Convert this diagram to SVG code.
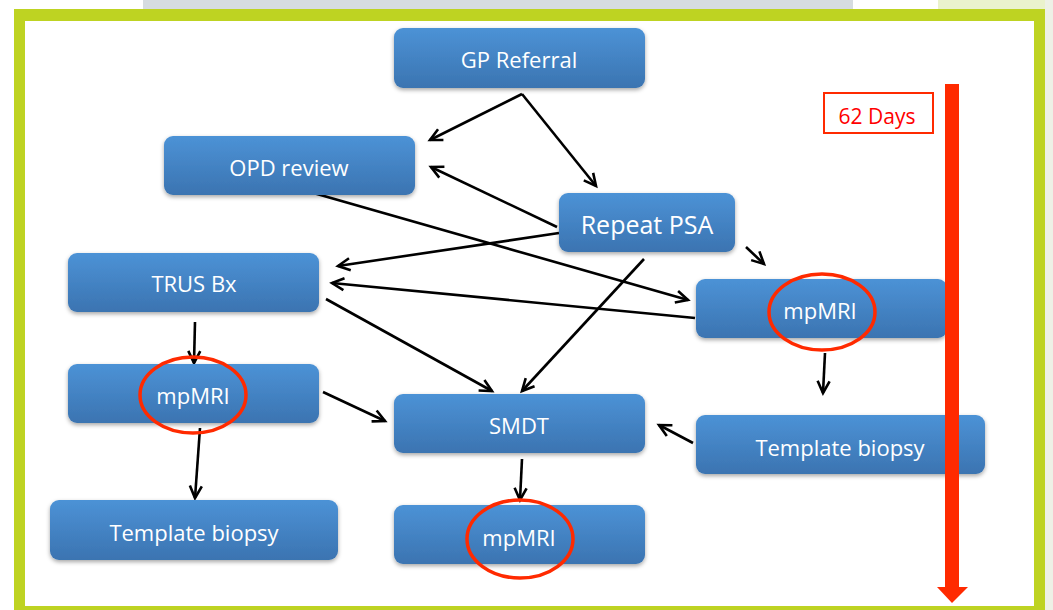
<svg xmlns="http://www.w3.org/2000/svg" width="1053" height="610" viewBox="0 0 1053 610">
<style>
.node rect.box{fill:url(#bg);filter:url(#sh)}
.node text{font-family:"Open Sans","Liberation Sans",sans-serif;font-size:22px;fill:#ffffff;text-anchor:middle;dominant-baseline:central}
.ring{fill:none;stroke:#ff2a00;stroke-width:3.5}
#connectors line{stroke:#000;stroke-width:2.6;marker-end:url(#ah)}
</style>
<defs>
<linearGradient id="bg" x1="0" y1="0" x2="0" y2="1">
<stop offset="0" stop-color="#4c92d6"/>
<stop offset="1" stop-color="#3b74b1"/>
</linearGradient>
<filter id="sh" x="-10%" y="-20%" width="120%" height="150%">
<feDropShadow dx="0" dy="2" stdDeviation="2" flood-color="#000" flood-opacity="0.35"/>
</filter>
<marker id="ah" markerUnits="userSpaceOnUse" markerWidth="16" markerHeight="16" refX="13" refY="7" orient="auto" viewBox="0 0 16 14">
<path d="M1,1 L13,7 L1,13" fill="none" stroke="#000" stroke-width="2.6" stroke-linejoin="miter"/>
</marker>
</defs>
<rect x="0" y="0" width="1053" height="610" fill="#ffffff"/>
<rect x="143" y="0" width="710" height="10" fill="#d6dce0"/>
<rect x="938" y="0" width="115" height="10" fill="#eaf2cc"/>
<rect x="1045" y="0" width="8" height="610" fill="#eef1e6"/>
<path d="M14,9 H1045 V610 H14 Z M25,21 V606 H1034 V21 Z" fill="#bed322" fill-rule="evenodd"/>

<g id="connectors">
<line x1="522" y1="94" x2="430" y2="140"/>
<line x1="522" y1="94" x2="596" y2="186"/>
<line x1="557" y1="227" x2="431" y2="167"/>
<line x1="559" y1="233" x2="338" y2="266"/>
<line x1="310" y1="192" x2="688" y2="300"/>
<line x1="695" y1="318" x2="332" y2="283"/>
<line x1="746" y1="247" x2="764" y2="264"/>
<line x1="644" y1="259" x2="522" y2="391"/>
<line x1="326" y1="299" x2="492" y2="391"/>
<line x1="195" y1="322" x2="194" y2="363"/>
<line x1="323" y1="392" x2="385" y2="421"/>
<line x1="200" y1="428" x2="195" y2="498"/>
<line x1="693" y1="443" x2="659" y2="425"/>
<line x1="825" y1="353" x2="823" y2="393"/>
<line x1="522" y1="459" x2="520" y2="500"/>
</g>

<g id="gp-referral" class="node"><rect class="box" x="394" y="28" width="251" height="60" rx="9"/><text x="519" y="59">GP Referral</text></g>
<g id="opd-review" class="node"><rect class="box" x="164" y="136" width="251" height="59" rx="9"/><text x="289" y="167">OPD review</text></g>
<g id="repeat-psa" class="node"><rect class="box" x="559" y="193" width="176" height="59" rx="9"/><text x="647" y="224" style="font-size:25px">Repeat PSA</text></g>
<g id="trus-bx" class="node"><rect class="box" x="68" y="253" width="251" height="59" rx="9"/><text x="194" y="283">TRUS Bx</text></g>
<g id="mpmri-right" class="node"><rect class="box" x="696" y="279" width="251" height="59" rx="9"/><text x="820" y="310">mpMRI</text><ellipse class="ring" cx="822" cy="312" rx="53" ry="38"/></g>
<g id="mpmri-left" class="node"><rect class="box" x="68" y="364" width="251" height="59" rx="9"/><text x="193" y="395">mpMRI</text><ellipse class="ring" cx="193" cy="395" rx="53" ry="38"/></g>
<g id="smdt" class="node"><rect class="box" x="394" y="394" width="251" height="59" rx="9"/><text x="519" y="425">SMDT</text></g>
<g id="template-right" class="node"><rect class="box" x="696" y="415" width="289" height="59" rx="9"/><text x="840" y="447">Template biopsy</text></g>
<g id="template-left" class="node"><rect class="box" x="50" y="500" width="288" height="60" rx="9"/><text x="194" y="532">Template biopsy</text></g>
<g id="mpmri-bottom" class="node"><rect class="box" x="394" y="505" width="251" height="59" rx="9"/><text x="519" y="537">mpMRI</text><ellipse class="ring" cx="520" cy="539" rx="53" ry="39"/></g>

<g id="timeline">
<rect x="945" y="84" width="14" height="506" fill="#ff2a00"/>
<path d="M937,587 H968 L952,603 Z" fill="#ff2a00"/>
<rect x="824" y="93" width="109" height="40" fill="#fff" stroke="#ff2a00" stroke-width="2"/>
<text x="877" y="116" font-family="Open Sans, Liberation Sans, sans-serif" font-size="21" fill="#ff0000" text-anchor="middle" dominant-baseline="central">62 Days</text>
</g>
</svg>
